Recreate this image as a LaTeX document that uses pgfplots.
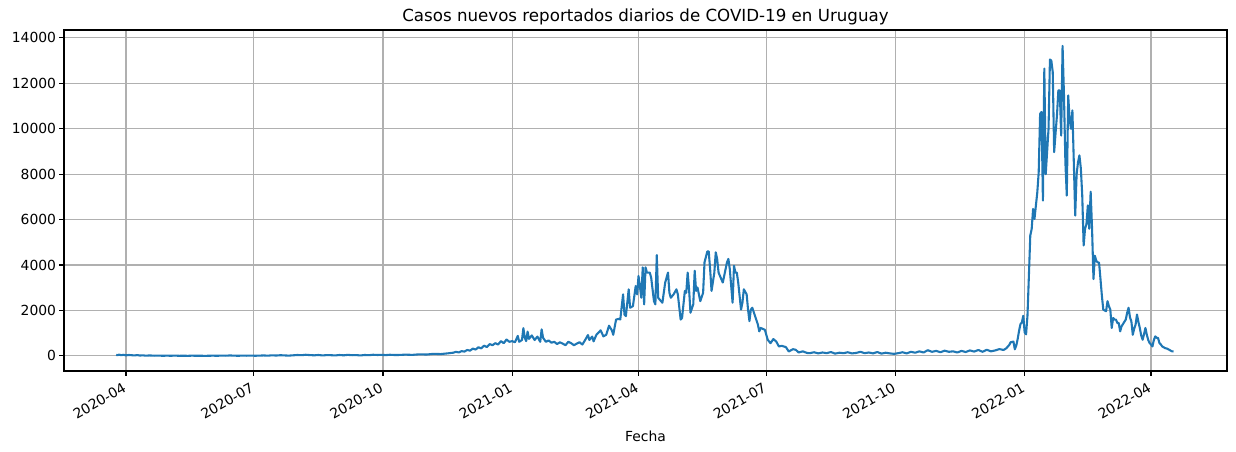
\documentclass[border=0pt]{standalone}
\usepackage{pgfplots}
\pgfplotsset{compat=1.18}
\usepackage{fontspec}
\setmainfont{DejaVu Sans}
\definecolor{mplblue}{RGB}{31,119,180}
\definecolor{gridgray}{RGB}{176,176,176}
\begin{document}
\begin{tikzpicture}
\useasboundingbox (-46.08pt,-58.32pt) rectangle (843.84pt,267.12pt);
\begin{axis}[
  at={(0,0)}, anchor=south west,
  scale only axis, width=837.36pt, height=245.52pt,
  xmin=46.84, xmax=875.1, ymin=-665, ymax=14350,
  xtick={91,182,274,366,456,547,639,731,821},
  xticklabels={2020-04,2020-07,2020-10,2021-01,2021-04,2021-07,2021-10,2022-01,2022-04},
  ytick={0,2000,4000,6000,8000,10000,12000,14000},
  scaled y ticks=false,
  /pgf/number format/.cd, 1000 sep={}, assume math mode=true, /pgfplots/.cd,
  tick label style={font=\fontsize{10}{12}\selectfont, text=black},
  xticklabel style={rotate=30, anchor=north east, inner sep=1pt, yshift=-1pt, xshift=-3.5pt},
  yticklabel style={inner sep=2pt},
  xtick pos=bottom, ytick pos=left,
  tick align=outside, major tick length=3.5pt,
  every tick/.style={black, line width=0.8pt},
  axis line style={black, line width=0.8pt},
  grid=major,
  major grid style={gridgray, line width=0.8pt},
  title={Casos nuevos reportados diarios de COVID-19 en Uruguay},
  every axis title/.style={font=\fontsize{12}{14}\selectfont, at={(0.5,1)}, anchor=base, yshift=6pt},
  xlabel={Fecha},
  xlabel style={font=\fontsize{10}{12}\selectfont, at={(0.5,0)}, anchor=center, yshift=-46.8pt},
]
\addplot[mplblue, line width=1.5pt, line join=round, mark=none] coordinates {
(84,45)(85,30)(86,55)(87,40)(88,30)(89,50)(90,35)(91,25)(93,40)(95,30)(97,20)(99,35)(101,15)(103,25)(105,10)(108,20)(111,8)(114,15)(117,5)(120,10)(123,6)(126,12)(129,4)(132,8)(135,3)(138,10)(141,5)(144,8)(147,2)(150,6)(153,10)(156,4)(159,15)(162,8)(165,20)(168,10)(171,6)(174,12)(177,8)(180,15)(183,6)(186,12)(189,20)(192,10)(195,25)(198,15)(201,30)(204,20)(207,12)(210,25)(213,40)(216,30)(219,50)(222,35)(225,25)(228,40)(231,20)(234,35)(237,30)(240,20)(243,40)(246,25)(249,45)(252,30)(255,35)(258,20)(261,40)(264,30)(267,50)(270,40)(273,45)(276,35)(279,50)(282,40)(285,40)(290,55)(295,45)(300,70)(305,60)(310,90)(315,80)(320,110)(324,140)
(326,180)(328,150)(330,210)(332,190)(334,260)(336,230)(338,320)(340,280)(342,380)(344,330)(346,450)(348,390)(350,520)(352,470)(354,560)(356,500)(358,650)(360,560)(362,720)(364,620)(366,650)(368,600)(370,880)(371,620)(373,700)(374,1220)(375,800)(376,650)(377,1070)(378,750)(380,900)(382,700)(384,850)(386,620)(387,1170)(388,800)(390,620)(392,680)(394,580)(396,620)(398,520)(400,600)(402,540)(404,470)(406,620)(408,560)(410,470)(412,540)(414,600)(416,500)(418,700)(420,920)(421,700)(423,850)
(424,640)(426,930)(429,1125)(431,860)(433,930)(435,1330)(437,1125)(438,930)(440,1600)(442,1630)(443,1600)(445,2710)(446,1820)(447,1750)(449,2930)(450,2120)(452,2190)(454,3080)(455,2710)(456,3520)(458,2560)(459,3900)(460,2270)(461,3900)(462,3670)(464,3670)(465,3450)(467,2410)(468,2270)(469,4440)(470,2560)(472,2410)(473,2340)(475,3230)(477,3670)(478,2780)(479,2560)(481,2710)(483,2930)(484,2710)(486,1600)(487,1670)(489,2860)(490,2780)(491,3670)(492,2930)(493,1900)(495,2270)(496,3750)(497,2860)(498,3010)(500,2410)(502,2780)(503,4120)(505,4600)(506,4600)(507,3820)(508,2860)(510,3670)(511,4560)(512,4270)(513,3670)(514,3520)(516,3230)(517,3520)(519,4120)(520,4270)(521,3820)(523,2340)(524,3970)(525,3670)(526,3670)(527,3230)(529,2040)(530,2340)(531,2930)(533,2710)(534,2040)(535,1530)(536,2040)(537,2120)(539,1750)(541,1380)(542,1080)(543,1230)(546,1150)(548,710)(550,560)(552,740)(554,640)(556,415)(558,444)(561,385)(563,193)(566,296)(568,267)(570,150)
(573,200)(576,130)(578,120)(581,160)(584,110)(587,150)(590,120)(593,170)(596,100)(599,140)(602,120)(605,160)(608,110)(611,130)(614,180)(617,120)(620,150)(623,110)(626,170)(629,100)(632,140)(635,110)(638,90)(641,120)(644,160)(647,110)(650,180)(653,140)(656,200)(659,150)(662,250)(665,180)(668,220)(671,160)(674,230)(677,180)(680,200)(683,150)(686,220)(689,170)(692,240)(695,190)(698,260)(701,180)(704,270)(707,200)(710,240)(713,300)(716,260)(718,340)(720,480)(721,600)(723,630)(724,290)(725,450)
(726,735)(727,1100)(728,1400)(729,1470)(730,1765)(731,1030)(732,950)(733,1765)(734,3500)(735,5300)(736,5590)(737,6470)(738,6030)(739,6620)(740,7200)(741,8090)(742,10660)(743,10740)(744,6840)(745,12650)(746,8000)(747,9000)(748,10000)(749,13050)(750,13000)(751,12500)(752,8970)(753,9800)(754,10590)(755,11690)(756,11690)(757,9700)(758,13650)(759,11470)(760,8530)(761,7060)(762,11470)(763,10440)(764,10000)(765,10810)(766,8530)(767,6180)(768,8000)(769,8530)(770,8830)(771,8260)(772,7080)(773,4860)(774,5600)(775,5800)(776,6630)(777,5600)(778,7230)(779,5600)(780,3380)(781,4410)(782,4190)(783,4120)(784,4100)(785,3380)(786,2640)(787,2040)(788,2000)(789,1970)(790,2410)(791,2190)(792,2040)(793,1230)(794,1670)(795,1600)(796,1600)(797,1450)(798,1450)(799,1080)(800,1300)(801,1400)(802,1500)(803,1600)(804,1900)(805,2120)(806,1700)(807,1520)(808,930)(809,1200)(810,1380)(811,1820)(812,1500)(813,1230)(814,900)(815,710)(816,950)(817,1230)(818,930)(819,700)(820,563)(821,500)(822,415)(823,700)(824,860)(825,800)(826,785)(827,563)(828,500)(829,415)(830,380)(831,341)(832,330)(833,300)(834,267)(835,230)(836,200)(837,193)
};
\end{axis}
\end{tikzpicture}
\end{document}
